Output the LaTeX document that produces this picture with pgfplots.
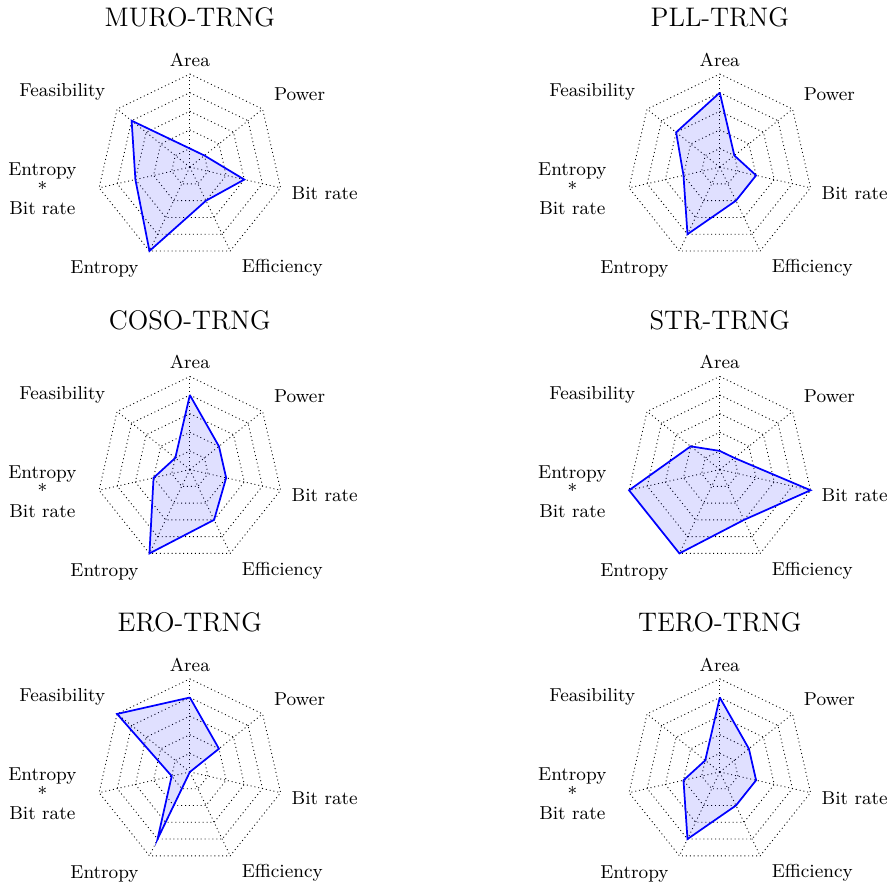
\documentclass[border=0pt]{standalone}
\usepackage{pgfplots}
\pgfplotsset{compat=1.18}
\pgfplotsset{
  radar/.style={hide axis, scale only axis, width=86pt, height=86pt,
    xmin=-5, xmax=5, ymin=-5, ymax=5, clip=false, anchor=center},
  gridl/.style={black, line width=0.4pt, dash pattern=on 0.45pt off 1.35pt, data cs=polar, forget plot, mark=none},
  series/.style={blue, line width=0.8pt, fill=blue, fill opacity=0.12, draw opacity=1, data cs=polar, mark=none},
}
\newcommand\lab{\fontsize{8.65}{9}\selectfont}
\newcommand\hept[1]{\addplot[gridl] coordinates {(90,#1) (38.571,#1) (-12.857,#1) (-64.286,#1) (-115.714,#1) (-167.143,#1) (141.429,#1) (90,#1)};}
\newcommand\spoke[1]{\addplot[gridl] coordinates {(#1,0) (#1,5)};}
\newcommand\radargrid[1]{%
  \hept{1}\hept{2}\hept{3}\hept{4}\hept{5}%
  \spoke{90}\spoke{38.571}\spoke{-12.857}\spoke{-64.286}\spoke{-115.714}\spoke{-167.143}\spoke{141.429}%
  \node[font=\lab] at (axis cs:0,5.77) {Area};
  \node[font=\lab, anchor=west] at (axis cs:4.11,3.92) {Power};
  \node[font=\lab, anchor=west] at (axis cs:5.06,-1.40) {Bit rate};
  \node[font=\lab, anchor=west] at (axis cs:2.38,-5.43) {Efficiency};
  \node[font=\lab, anchor=east] at (axis cs:-2.34,-5.48) {Entropy};
  \node[font=\lab, align=center, anchor=east] at (axis cs:-5.68,-1.18) {Entropy\\*\\Bit rate};
  \node[font=\lab, anchor=east] at (axis cs:-4.13,4.03) {Feasibility};
  \node[font=\fontsize{12.4}{15}\selectfont, anchor=base] at (axis cs:0,7.53) {#1};
}
\begin{document}
\begin{tikzpicture}
% MURO-TRNG
\begin{axis}[radar, at={(0pt,0pt)}]
\radargrid{MURO-TRNG}
\addplot[series] coordinates {(90,1) (38.571,1) (-12.857,3) (-64.286,2) (-115.714,5) (-167.143,3) (141.429,4) (90,1)};
\end{axis}
% PLL-TRNG
\begin{axis}[radar, at={(244.8pt,0pt)}]
\radargrid{PLL-TRNG}
\addplot[series] coordinates {(90,4) (38.571,1) (-12.857,2) (-64.286,2) (-115.714,4) (-167.143,2) (141.429,3) (90,4)};
\end{axis}
% COSO-TRNG
\begin{axis}[radar, at={(0pt,-139.7pt)}]
\radargrid{COSO-TRNG}
\addplot[series] coordinates {(90,4) (38.571,2) (-12.857,2) (-64.286,3) (-115.714,5) (-167.143,2) (141.429,1) (90,4)};
\end{axis}
% STR-TRNG
\begin{axis}[radar, at={(244.8pt,-139.7pt)}]
\radargrid{STR-TRNG}
\addplot[series] coordinates {(90,1) (38.571,1) (-12.857,5) (-64.286,3) (-115.714,5) (-167.143,5) (141.429,2) (90,1)};
\end{axis}
% ERO-TRNG
\begin{axis}[radar, at={(0pt,-279.4pt)}]
\radargrid{ERO-TRNG}
\addplot[series] coordinates {(90,4) (38.571,2) (-12.857,0) (-64.286,0) (-115.714,4) (-167.143,1) (141.429,5) (90,4)};
\end{axis}
% TERO-TRNG
\begin{axis}[radar, at={(244.8pt,-279.4pt)}]
\radargrid{TERO-TRNG}
\addplot[series] coordinates {(90,4) (38.571,2) (-12.857,2) (-64.286,2) (-115.714,4) (-167.143,2) (141.429,1) (90,4)};
\end{axis}
\pgfresetboundingbox
\path[use as bounding box] (-87.7pt,-332.8pt) rectangle (322.5pt,77.2pt);
\end{tikzpicture}
\end{document}
